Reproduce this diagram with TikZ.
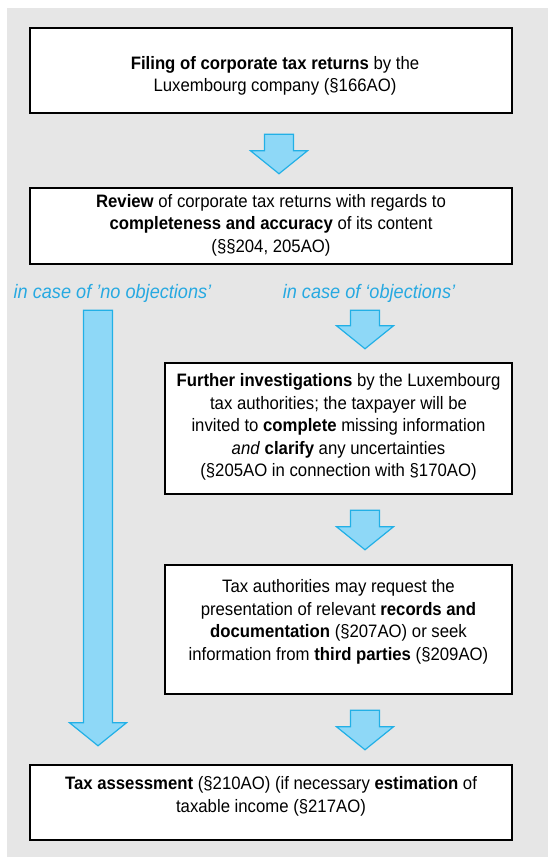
\documentclass[tikz,border=0pt]{standalone}
\usepackage{fontspec}
\setmainfont{Liberation Sans}[FakeStretch=0.93]
\usetikzlibrary{calc,positioning}

\definecolor{panelgray}{RGB}{230,230,230}
\definecolor{arrowfill}{RGB}{142,216,247}
\definecolor{arrowline}{RGB}{34,176,230}
\definecolor{casecol}{RGB}{39,169,225}

% block arrow from a start coordinate down to a tip coordinate
\newcommand{\blockarrow}[2]{%
  \filldraw[flowarr] let \p1=(#1), \p2=(#2) in
    (\x1-14.5pt,\y1) -- (\x1+14.5pt,\y1) -- (\x1+14.5pt,\y2+23pt)
    -- (\x1+28.5pt,\y2+23pt) -- (\x2,\y2) -- (\x1-28.5pt,\y2+23pt)
    -- (\x1-14.5pt,\y2+23pt) -- cycle;}

\begin{document}
\begin{tikzpicture}[x=1pt, y=1pt,
  stepbox/.style={draw, line width=2.5pt, fill=white, inner sep=0pt},
  txt/.style={align=center, font=\fontsize{18}{22.5}\selectfont},
  case/.style={font=\fontsize{19.5}{22.5}\selectfont\itshape, text=casecol},
  flowarr/.style={fill=arrowfill, draw=arrowline, line width=1.2pt}
]
  \useasboundingbox (0,0) rectangle (548,857);
  \fill[panelgray] (7,0) rectangle (548,849);

  \node[stepbox, minimum width=482, minimum height=85]  (filing) at (271,786.5) {};
  \node[stepbox, minimum width=482, minimum height=76]  (review) at (271,631) {};
  \node[stepbox, minimum width=347, minimum height=131] (invest) at (338.5,428.5) {};
  \node[stepbox, minimum width=347, minimum height=129] (records) at (338.5,227.5) {};
  \node[stepbox, minimum width=482, minimum height=75]  (assess) at (271,54.5) {};

  \node[txt] (filingtxt) at ($(filing.center)+(4,-5.5)$)
    {\textbf{Filing of corporate tax returns} by the\\Luxembourg company (§166AO)};
  \node[txt] (reviewtxt) at ($(review.center)+(0,1)$)
    {\textbf{Review} of corporate tax returns with regards to\\
     \textbf{completeness and accuracy} of its content\\(§§204, 205AO)};
  \node[txt] (investtxt) at ($(invest.center)+(0,1.5)$)
    {\textbf{Further investigations} by the Luxembourg\\tax authorities; the taxpayer will be\\
     invited to \textbf{complete} missing information\\\textit{and} \textbf{clarify} any uncertainties\\
     (§205AO in connection with §170AO)};
  \node[txt] (recordstxt) at ($(records.center)+(0,7.5)$)
    {Tax authorities may request the\\presentation of relevant \textbf{records and}\\
     \textbf{documentation} (§207AO) or seek\\information from \textbf{third parties} (§209AO)};
  \node[txt] (assesstxt) at ($(assess.center)+(0,6)$)
    {\textbf{Tax assessment} (§210AO) (if necessary \textbf{estimation} of\\taxable income (§217AO)};

  \node[case] (noobj) at (112.5,564) {in case of ’no objections’};
  \node[case] (obj)   at (369,564)   {in case of ‘objections’};

  % arrows between the steps
  \coordinate (a1s) at ($(filing.south)+(8,-20)$);
  \coordinate (a1e) at ($(review.north)+(8,13)$);
  \coordinate (a2s) at ($(review.south)+(94,-45)$);
  \coordinate (a2e) at ($(invest.north)+(26.5,13)$);
  \coordinate (a3s) at ($(invest.south)+(26.5,-15)$);
  \coordinate (a3e) at ($(records.north)+(26.5,14)$);
  \coordinate (a4s) at ($(records.south)+(26.5,-15)$);
  \coordinate (a4e) at ($(assess.north)+(94,14)$);
  \coordinate (a5s) at ($(review.south)+(-173,-45)$);
  \coordinate (a5e) at ($(assess.north)+(-173,18)$);
  \blockarrow{a1s}{a1e}
  \blockarrow{a2s}{a2e}
  \blockarrow{a3s}{a3e}
  \blockarrow{a4s}{a4e}
  \blockarrow{a5s}{a5e}
\end{tikzpicture}
\end{document}
